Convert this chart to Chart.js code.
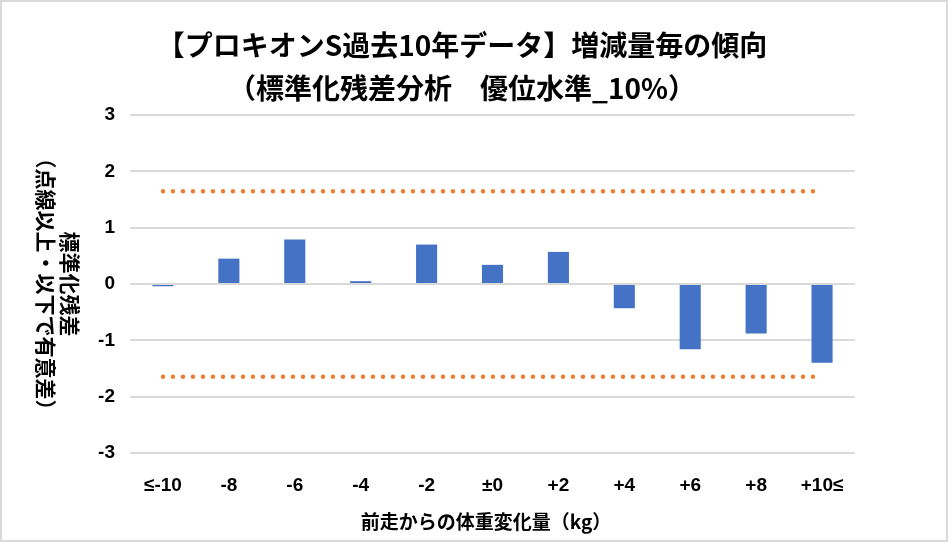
<!DOCTYPE html>
<html lang="ja">
<head>
<meta charset="utf-8">
<title>プロキオンS 標準化残差</title>
<script src="https://cdn.jsdelivr.net/npm/chart.js@4.4.1/dist/chart.umd.min.js"></script>
<style>
  html, body { margin: 0; padding: 0; background: #fff; }
  canvas { display: block; }
</style>
</head>
<body>
<canvas id="residualChart" width="948" height="542"></canvas>
<script>
// weight change buckets (kg) and standardized residuals
const categories = ['≤-10', '-8', '-6', '-4', '-2', '±0', '+2', '+4', '+6', '+8', '+10≤'];
const residuals = [-0.04, 0.45, 0.79, 0.05, 0.70, 0.34, 0.57, -0.43, -1.16, -0.88, -1.40];
// significance limits (10% two-sided)
const upperLimit = [1.645, 1.645, 1.645, 1.645, 1.645, 1.645, 1.645, 1.645, 1.645, 1.645, 1.645];
const lowerLimit = [-1.645, -1.645, -1.645, -1.645, -1.645, -1.645, -1.645, -1.645, -1.645, -1.645, -1.645];

const titleLines = ['【プロキオンS過去10年データ】増減量毎の傾向', '（標準化残差分析　優位水準_10%）'];
const xTitle = '前走からの体重変化量（kg）';
const yTitleLines = ['標準化残差', '（点線以上・以下で有意差）'];

const JP = '"Noto Sans CJK JP", "Noto Sans", sans-serif';
const NUM = '"Liberation Sans Narrow", "Liberation Sans", ' + JP;

const colors = {
  bar: '#4472C4',
  limit: '#ED7D31',
  grid: '#D9D9D9',
  text: '#000000'
};

// titles, axis titles and frame drawn by hand (Excel-like placement)
const decorations = {
  id: 'decorations',
  beforeDraw(chart) {
    const ctx = chart.ctx;
    ctx.save();
    ctx.fillStyle = '#ffffff';
    ctx.fillRect(0, 0, chart.width, chart.height);
    ctx.restore();
  },
  afterDraw(chart) {
    const ctx = chart.ctx;
    ctx.save();
    ctx.fillStyle = colors.text;
    ctx.textAlign = 'center';
    ctx.textBaseline = 'middle';

    ctx.font = 'bold 28px ' + JP;
    ctx.fillText(titleLines[0], 462, 45);
    ctx.fillText(titleLines[1], 462, 88);

    ctx.font = 'bold 19px ' + JP;
    ctx.fillText(xTitle, 486, 522);

    ctx.font = 'bold 21px ' + JP;
    ctx.translate(70, 284);
    ctx.rotate(Math.PI / 2);
    ctx.fillText(yTitleLines[0], 0, 0);
    ctx.fillText(yTitleLines[1], 0, 24);
    ctx.restore();

    ctx.save();
    ctx.strokeStyle = colors.grid;
    ctx.lineWidth = 2;
    ctx.strokeRect(1, 1, chart.width - 2, chart.height - 2);
    ctx.restore();
  }
};

new Chart(document.getElementById('residualChart'), {
  type: 'bar',
  data: {
    labels: categories,
    datasets: [
      {
        label: '標準化残差',
        data: residuals,
        backgroundColor: colors.bar,
        barPercentage: 0.32,
        categoryPercentage: 1.0,
        order: 2
      },
      {
        type: 'line',
        label: '上限',
        data: upperLimit,
        borderColor: colors.limit,
        borderWidth: 4.5,
        borderDash: [0, 10],
        borderCapStyle: 'round',
        pointRadius: 0,
        fill: false,
        order: 1
      },
      {
        type: 'line',
        label: '下限',
        data: lowerLimit,
        borderColor: colors.limit,
        borderWidth: 4.5,
        borderDash: [0, 10],
        borderCapStyle: 'round',
        pointRadius: 0,
        fill: false,
        order: 1
      }
    ]
  },
  options: {
    responsive: false,
    animation: false,
    layout: { padding: { top: 115, right: 93, bottom: 0, left: 0 } },
    plugins: {
      legend: { display: false },
      tooltip: { enabled: false },
      title: { display: false }
    },
    scales: {
      x: {
        grid: { display: false },
        border: { display: false },
        ticks: {
          color: colors.text,
          font: { family: NUM, size: 19, weight: 'bold' },
          padding: 13,
          maxRotation: 0
        },
        afterFit: (scale) => { scale.height = 89; }
      },
      y: {
        min: -3,
        max: 3,
        grid: { color: colors.grid, lineWidth: 2, drawTicks: false },
        border: { display: false },
        ticks: {
          stepSize: 1,
          color: colors.text,
          font: { family: NUM, size: 19, weight: 'bold' },
          padding: 15
        },
        afterFit: (scale) => { scale.width = 130; }
      }
    }
  },
  plugins: [decorations]
});
</script>
</body>
</html>
